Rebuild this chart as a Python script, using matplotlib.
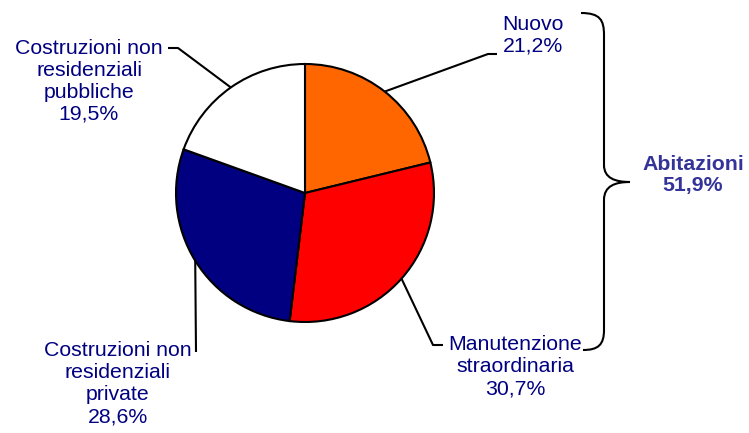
import numpy as np
import matplotlib.pyplot as plt
from matplotlib.path import Path
from matplotlib.patches import PathPatch

plt.rcParams['font.family'] = ['Liberation Sans', 'DejaVu Sans']

# data
labels = ["Nuovo\n21,2%",
          "Manutenzione\nstraordinaria\n30,7%",
          "Costruzioni non\nresidenziali\nprivate\n28,6%",
          "Costruzioni non\nresidenziali\npubbliche\n19,5%"]
values = [21.2, 30.7, 28.6, 19.5]
colors = ["#FF6600", "#FF0000", "#000080", "#FFFFFF"]
group_label = "Abitazioni\n51,9%"

W, H = 749, 433
def Y(y):
    return H - y

fig = plt.figure(figsize=(W / 100, H / 100), dpi=100)
ax = fig.add_axes([0, 0, 1, 1])
ax.set_xlim(0, W)
ax.set_ylim(0, H)
ax.axis('off')

cx, cy, r = 305, Y(193), 129
wedges, _ = ax.pie(values, colors=colors, startangle=90, counterclock=False,
                   center=(cx, cy), radius=r,
                   wedgeprops=dict(edgecolor='black', linewidth=1.5))
ax.set_xlim(0, W)
ax.set_ylim(0, H)
ax.set_aspect('equal')

txt_col = "#000080"
fs = 15.3

# label position, and leader line bends (pixel coords)
label_pos = [(533, 35), (515, 367), (118, 384), (89, 81)]
leaders = [[(488, 54), (497, 54)],
           [(433, 345), (443, 345)],
           [(196, 352)],
           [(178, 48), (168, 48)]]

for w, lab, pos, pts in zip(wedges, labels, label_pos, leaders):
    mid = np.deg2rad((w.theta1 + w.theta2) / 2)
    x0 = cx + r * np.cos(mid)
    y0 = cy + r * np.sin(mid)
    xs = [x0] + [p[0] for p in pts]
    ys = [y0] + [Y(p[1]) for p in pts]
    ax.plot(xs, ys, color='black', linewidth=1.5, solid_capstyle='butt')
    ax.text(pos[0], Y(pos[1]), lab, ha='center', va='center',
            color=txt_col, fontsize=fs, linespacing=1.2)

# brace
verts = [(581, 13), (600, 13), (604, 20), (604, 35),
         (604, 165),
         (604, 178), (615, 182), (630, 182),
         (615, 182), (604, 186), (604, 200),
         (604, 330),
         (604, 345), (598, 350), (583, 350)]
codes = [Path.MOVETO, Path.CURVE4, Path.CURVE4, Path.CURVE4,
         Path.LINETO,
         Path.CURVE4, Path.CURVE4, Path.CURVE4,
         Path.CURVE4, Path.CURVE4, Path.CURVE4,
         Path.LINETO,
         Path.CURVE4, Path.CURVE4, Path.CURVE4]
brace = Path([(x, Y(y)) for x, y in verts], codes)
ax.add_patch(PathPatch(brace, facecolor='none', edgecolor='black', linewidth=1.5))

ax.text(693, Y(175), group_label, ha='center', va='center',
        color="#333399", fontsize=fs, fontweight='bold', linespacing=1.2)

fig.savefig("out.png", dpi=100)
